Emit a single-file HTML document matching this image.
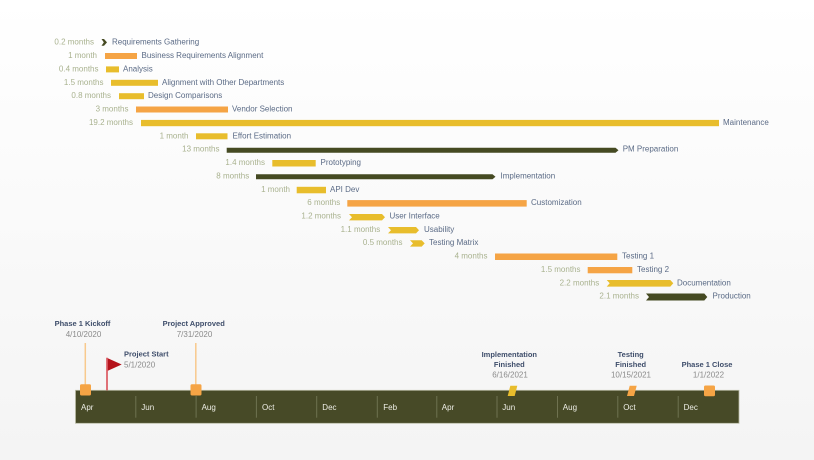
<!DOCTYPE html>
<html><head><meta charset="utf-8"><style>
html,body{margin:0;padding:0;}
body{width:814px;height:460px;overflow:hidden;background:linear-gradient(#ffffff,#f4f4f4);}
svg{display:block;font-family:"Liberation Sans",Arial,sans-serif;}
.m{fill:#a9b28f;font-size:8px;text-anchor:end;}
.n{fill:#5b6b86;font-size:8px;}
.t{fill:#3f4e6b;font-size:7.5px;font-weight:bold;text-anchor:middle;}
.d{fill:#8a8a8a;font-size:8px;text-anchor:middle;}
.mo{fill:#eeeee6;font-size:8px;}
</style></head><body>
<svg width="814" height="460" viewBox="0 0 814 460" xmlns="http://www.w3.org/2000/svg">
<!-- Gantt rows -->
<g>
<!-- 0 Requirements Gathering -->
<text class="m" x="94" y="44.7">0.2 months</text>
<polygon points="101.5,39 104,39 107,42.4 104,45.8 101.5,45.8 103.8,42.4" fill="#454a22"/>
<text class="n" x="112" y="44.7">Requirements Gathering</text>
<!-- 1 -->
<text class="m" x="97" y="58.1">1 month</text>
<rect x="105" y="53" width="32" height="6" fill="#f5a445"/>
<text class="n" x="141.5" y="58.1">Business Requirements Alignment</text>
<!-- 2 -->
<text class="m" x="98.5" y="71.4">0.4 months</text>
<rect x="106" y="66.4" width="13" height="6" fill="#e8bd2c"/>
<text class="n" x="123" y="71.4">Analysis</text>
<!-- 3 -->
<text class="m" x="103.5" y="84.8">1.5 months</text>
<rect x="111" y="79.8" width="47" height="6" fill="#e8bd2c"/>
<text class="n" x="162" y="84.8">Alignment with Other Departments</text>
<!-- 4 -->
<text class="m" x="111" y="98.2">0.8 months</text>
<rect x="119" y="93.2" width="25" height="6" fill="#e8bd2c"/>
<text class="n" x="148" y="98.2">Design Comparisons</text>
<!-- 5 -->
<text class="m" x="128.5" y="111.5">3 months</text>
<rect x="136" y="106.5" width="92" height="6" fill="#f5a445"/>
<text class="n" x="232" y="111.5">Vendor Selection</text>
<!-- 6 -->
<text class="m" x="133" y="124.9">19.2 months</text>
<rect x="141" y="119.9" width="578" height="6.3" fill="#e8bd2c"/>
<text class="n" x="723" y="124.9">Maintenance</text>
<!-- 7 -->
<text class="m" x="188.5" y="138.3">1 month</text>
<rect x="196" y="133.3" width="31.5" height="6" fill="#e8bd2c"/>
<text class="n" x="232.5" y="138.3">Effort Estimation</text>
<!-- 8 -->
<text class="m" x="219.5" y="151.7">13 months</text>
<polygon points="226.7,147.7 615.5,147.7 618.5,150.2 615.5,152.7 226.7,152.7" fill="#454a22"/>
<text class="n" x="622.7" y="151.7">PM Preparation</text>
<!-- 9 -->
<text class="m" x="265" y="165">1.4 months</text>
<rect x="272.3" y="160" width="43.4" height="6.5" fill="#e8bd2c"/>
<text class="n" x="320.5" y="165">Prototyping</text>
<!-- 10 -->
<text class="m" x="249.2" y="178.4">8 months</text>
<polygon points="256,174.3 492.5,174.3 495.5,176.8 492.5,179.3 256,179.3" fill="#454a22"/>
<text class="n" x="500.5" y="178.4">Implementation</text>
<!-- 11 -->
<text class="m" x="290" y="191.8">1 month</text>
<rect x="296.7" y="186.8" width="29.3" height="6.5" fill="#e8bd2c"/>
<text class="n" x="330" y="191.8">API Dev</text>
<!-- 12 -->
<text class="m" x="340.2" y="205.1">6 months</text>
<rect x="347.3" y="200.1" width="179.4" height="6.5" fill="#f5a445"/>
<text class="n" x="531" y="205.1">Customization</text>
<!-- 13 -->
<text class="m" x="341" y="218.5">1.2 months</text>
<polygon points="349,214 382,214 385,217.2 382,220.4 349,220.4 352,217.2" fill="#e8bd2c"/>
<text class="n" x="389.5" y="218.5">User Interface</text>
<!-- 14 -->
<text class="m" x="380.2" y="231.9">1.1 months</text>
<polygon points="388,227 416,227 419,230.2 416,233.4 388,233.4 391,230.2" fill="#e8bd2c"/>
<text class="n" x="424" y="231.9">Usability</text>
<!-- 15 -->
<text class="m" x="402.5" y="245.2">0.5 months</text>
<polygon points="410,240.2 421.7,240.2 424.7,243.4 421.7,246.6 410,246.6 413,243.4" fill="#e8bd2c"/>
<text class="n" x="429" y="245.2">Testing Matrix</text>
<!-- 16 -->
<text class="m" x="487.5" y="258.6">4 months</text>
<rect x="495" y="253.5" width="122.3" height="6.5" fill="#f5a445"/>
<text class="n" x="622" y="258.6">Testing 1</text>
<!-- 17 -->
<text class="m" x="580.5" y="272">1.5 months</text>
<rect x="587.7" y="267" width="44.6" height="6.3" fill="#f5a445"/>
<text class="n" x="637" y="272">Testing 2</text>
<!-- 18 -->
<text class="m" x="599.2" y="285.3">2.2 months</text>
<polygon points="606.7,280 670.3,280 673.3,283.3 670.3,286.6 606.7,286.6 609.7,283.3" fill="#e8bd2c"/>
<text class="n" x="677" y="285.3">Documentation</text>
<!-- 19 -->
<text class="m" x="639" y="298.7">2.1 months</text>
<polygon points="646,293.5 704.3,293.5 707.3,297 704.3,300.5 646,300.5 649,297" fill="#454a22"/>
<text class="n" x="712.5" y="298.7">Production</text>
</g>

<!-- Timeline band -->
<rect x="75.5" y="390.3" width="663.5" height="33" fill="#474a27" stroke="#b8baa4" stroke-width="0.8"/>
<g stroke="#6f7250" stroke-width="1">
<line x1="135.8" y1="396" x2="135.8" y2="417.7"/>
<line x1="196.1" y1="396" x2="196.1" y2="417.7"/>
<line x1="256.4" y1="396" x2="256.4" y2="417.7"/>
<line x1="316.7" y1="396" x2="316.7" y2="417.7"/>
<line x1="377.3" y1="396" x2="377.3" y2="417.7"/>
<line x1="436.8" y1="396" x2="436.8" y2="417.7"/>
<line x1="497" y1="396" x2="497" y2="417.7"/>
<line x1="557.5" y1="396" x2="557.5" y2="417.7"/>
<line x1="617.8" y1="396" x2="617.8" y2="417.7"/>
<line x1="678.2" y1="396" x2="678.2" y2="417.7"/>
</g>
<g>
<text class="mo" x="81" y="410">Apr</text>
<text class="mo" x="141.3" y="410">Jun</text>
<text class="mo" x="201.6" y="410">Aug</text>
<text class="mo" x="262" y="410">Oct</text>
<text class="mo" x="322.3" y="410">Dec</text>
<text class="mo" x="383.3" y="410">Feb</text>
<text class="mo" x="441.8" y="410">Apr</text>
<text class="mo" x="502.3" y="410">Jun</text>
<text class="mo" x="562.8" y="410">Aug</text>
<text class="mo" x="623.2" y="410">Oct</text>
<text class="mo" x="683.6" y="410">Dec</text>
</g>

<!-- Milestones -->
<line x1="85.3" y1="343" x2="85.3" y2="385" stroke="#f8c98d" stroke-width="1.5"/>
<rect x="80" y="384.3" width="11" height="11.2" rx="1.5" fill="#f5a445"/>
<text class="t" x="82.5" y="326">Phase 1 Kickoff</text>
<text class="d" x="83.5" y="337.2">4/10/2020</text>

<line x1="195.8" y1="343" x2="195.8" y2="385" stroke="#f8c98d" stroke-width="1.5"/>
<rect x="190.5" y="384.3" width="11" height="11.2" rx="1.5" fill="#f5a445"/>
<text class="t" x="193.7" y="326">Project Approved</text>
<text class="d" x="194.5" y="337.2">7/31/2020</text>

<line x1="107" y1="357.7" x2="107" y2="390.3" stroke="#d42a35" stroke-width="1.3"/>
<polygon points="107.8,358.3 121.7,364.5 107.8,370.7" fill="#b5121b"/>
<text class="t" x="124" y="356.5" style="text-anchor:start">Project Start</text>
<text class="d" x="124" y="367.5" style="text-anchor:start">5/1/2020</text>

<polygon points="510.3,385.8 517.3,385.8 514.7,396 507.7,396" fill="#e8bd2c"/>
<text class="t" x="509.3" y="357">Implementation</text>
<text class="t" x="509.3" y="367">Finished</text>
<text class="d" x="510" y="377.6">6/16/2021</text>

<polygon points="629.7,385.8 636.7,385.8 634,396 627,396" fill="#f5a445"/>
<text class="t" x="630.7" y="357">Testing</text>
<text class="t" x="630.7" y="367">Finished</text>
<text class="d" x="631" y="377.6">10/15/2021</text>

<rect x="704" y="385.5" width="11" height="10.8" rx="1.5" fill="#f5a445"/>
<text class="t" x="707" y="367">Phase 1 Close</text>
<text class="d" x="708.5" y="377.6">1/1/2022</text>
</svg>
</body></html>
